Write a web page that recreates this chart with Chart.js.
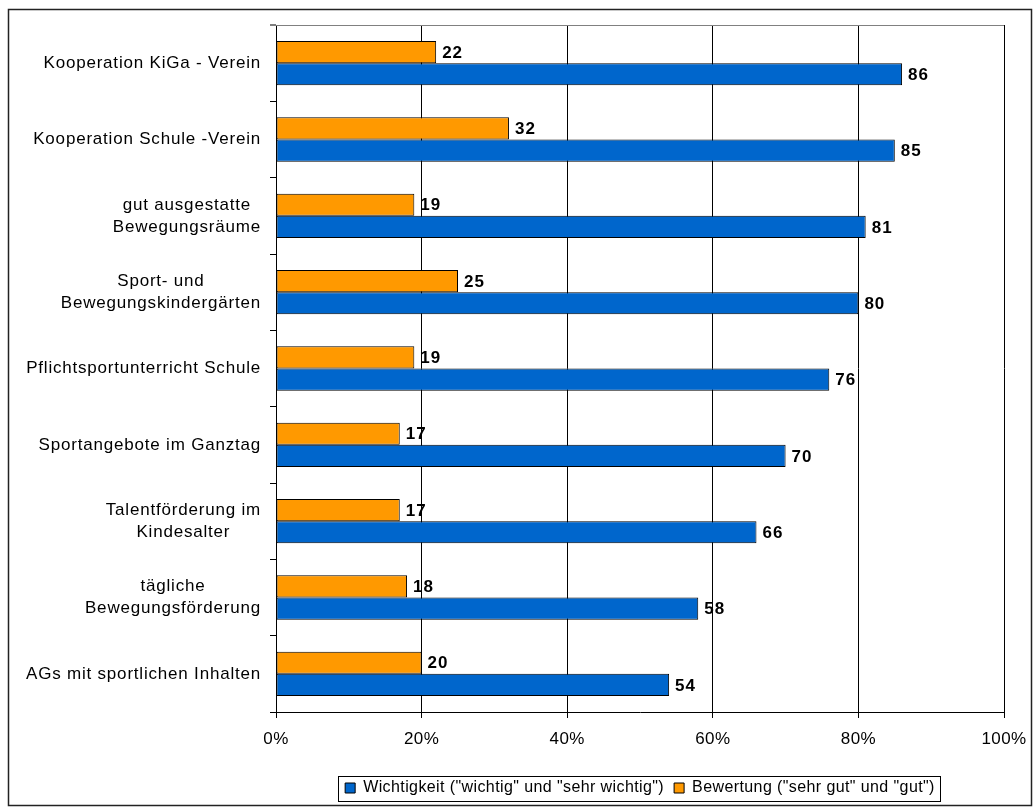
<!DOCTYPE html>
<html>
<head>
<meta charset="utf-8">
<script src="https://cdn.jsdelivr.net/npm/chart.js@4"></script>
<style>
  body { margin: 0; background: #fff; }
  #wrap { width: 1035px; height: 809px; }
</style>
</head>
<body>
<div id="wrap"><canvas id="chart"></canvas></div>
<script>
// Data
const categories = [
    ['Kooperation KiGa - Verein'],
    ['Kooperation Schule -Verein'],
    ['gut ausgestatte', 'Bewegungsräume'],
    ['Sport- und', 'Bewegungskindergärten'],
    ['Pflichtsportunterricht Schule'],
    ['Sportangebote im Ganztag'],
    ['Talentförderung im', 'Kindesalter'],
    ['tägliche', 'Bewegungsförderung'],
    ['AGs mit sportlichen Inhalten']
];
const wichtigkeit = [86, 85, 81, 80, 76, 70, 66, 58, 54];
const bewertung = [22, 32, 19, 25, 19, 17, 17, 18, 20];
const xTicks = [0, 20, 40, 60, 80, 100];

const FONT = 'Liberation Sans, Arial, sans-serif';
Chart.defaults.font.family = FONT;
Chart.defaults.color = '#000';

// slightly wider text spacing, like the original renderer
const spacing = {
    id: 'spacing',
    beforeLayout(chart) { chart.ctx.letterSpacing = '0.4px'; },
    beforeDraw(chart) { chart.ctx.letterSpacing = '0.4px'; }
};

// centre the legend under the plot area instead of the whole canvas
const legendUnderPlot = {
    id: 'legendUnderPlot',
    afterLayout(chart) {
        const lg = chart.legend;
        const a = chart.chartArea;
        lg.left = a.left;
        lg.right = a.right;
        lg.width = a.right - a.left;
    }
};

// Category labels: block right aligned, lines centred within the block
const categoryLabels = {
    id: 'categoryLabels',
    afterDraw(chart) {
        const ctx = chart.ctx;
        const y = chart.scales.y;
        ctx.save();
        ctx.font = '17px ' + FONT;
        ctx.letterSpacing = '0.8px';
        ctx.fillStyle = '#000';
        ctx.textAlign = 'center';
        ctx.textBaseline = 'middle';
        categories.forEach((lines, i) => {
            const w = Math.max(...lines.map(l => ctx.measureText(l).width));
            const cx = 261 - w / 2;
            const cy = y.getPixelForValue(i);
            const lh = 22;
            lines.forEach((l, j) => {
                ctx.fillText(l, cx, cy + (j - (lines.length - 1) / 2) * lh);
            });
        });
        ctx.restore();
    }
};

// Value labels at bar ends
const valueLabels = {
    id: 'valueLabels',
    afterDatasetsDraw(chart) {
        const ctx = chart.ctx;
        ctx.save();
        ctx.font = 'bold 17px ' + FONT;
        ctx.letterSpacing = '1px';
        ctx.fillStyle = '#000';
        ctx.textBaseline = 'middle';
        chart.data.datasets.forEach((ds, di) => {
            chart.getDatasetMeta(di).data.forEach((bar, i) => {
                ctx.fillText(ds.data[i], bar.x + 6, bar.y + 1);
            });
        });
        ctx.restore();
    }
};

// Frames: outer border, plot top line, legend box
const frames = {
    id: 'frames',
    afterDraw(chart) {
        const ctx = chart.ctx;
        const a = chart.chartArea;
        ctx.save();
        ctx.strokeStyle = '#222';
        ctx.lineWidth = 1.5;
        ctx.strokeRect(8.5, 9.5, 1023, 796);

        ctx.strokeStyle = '#808080';
        ctx.lineWidth = 1;
        ctx.beginPath();
        ctx.moveTo(a.left - 6, Math.round(a.top) + 0.5);
        ctx.lineTo(a.right, Math.round(a.top) + 0.5);
        ctx.stroke();

        const boxes = chart.legend.legendHitBoxes;
        if (boxes && boxes.length) {
            const left = Math.min(...boxes.map(b => b.left)) - 7;
            const right = Math.max(...boxes.map(b => b.left + b.width)) + 5;
            const top = Math.min(...boxes.map(b => b.top)) - 4;
            const bottom = Math.max(...boxes.map(b => b.top + b.height)) + 5;
            ctx.strokeStyle = '#000';
            ctx.strokeRect(Math.round(left) + 0.5, Math.round(top) + 0.5, Math.round(right - left), Math.round(bottom - top));
        }
        ctx.restore();
    }
};

new Chart(document.getElementById('chart'), {
    type: 'bar',
    data: {
        labels: categories,
        datasets: [
            {
                label: 'Bewertung ("sehr gut" und "gut")',
                data: bewertung,
                backgroundColor: '#FF9900',
                borderColor: '#000',
                borderWidth: 1,
                borderSkipped: false,
                categoryPercentage: 0.58,
                barPercentage: 1.0
            },
            {
                label: 'Wichtigkeit ("wichtig" und "sehr wichtig")',
                data: wichtigkeit,
                backgroundColor: '#0066CC',
                borderColor: '#000',
                borderWidth: 1,
                borderSkipped: false,
                categoryPercentage: 0.58,
                barPercentage: 1.0
            }
        ]
    },
    options: {
        indexAxis: 'y',
        responsive: true,
        maintainAspectRatio: false,
        animation: false,
        layout: { padding: { left: 0, right: 31, top: 25, bottom: 3 } },
        scales: {
            x: {
                min: 0,
                max: 100,
                afterBuildTicks(scale) {
                    scale.ticks = xTicks.map(v => ({ value: v }));
                },
                afterFit(scale) {
                    scale.height = 58;
                    scale.paddingRight = 0;
                    scale.paddingLeft = 0;
                },
                ticks: {
                    font: { size: 17 },
                    padding: 11,
                    callback: v => v + '%'
                },
                grid: { color: '#000', tickLength: 6, lineWidth: 1 },
                border: { color: '#000' }
            },
            y: {
                afterFit(scale) { scale.width = 276; },
                ticks: { display: false },
                grid: {
                    offset: true,
                    drawOnChartArea: false,
                    tickLength: 6,
                    color: ctx => ctx.index === 0 ? '#808080' : '#000'
                },
                border: { color: '#000' }
            }
        },
        plugins: {
            legend: {
                position: 'bottom',
                reverse: true,
                labels: {
                    font: { size: 16 },
                    boxWidth: 10,
                    boxHeight: 10,
                    padding: 10
                }
            },
            tooltip: { enabled: false }
        }
    },
    plugins: [spacing, legendUnderPlot, categoryLabels, valueLabels, frames]
});
</script>
</body>
</html>
